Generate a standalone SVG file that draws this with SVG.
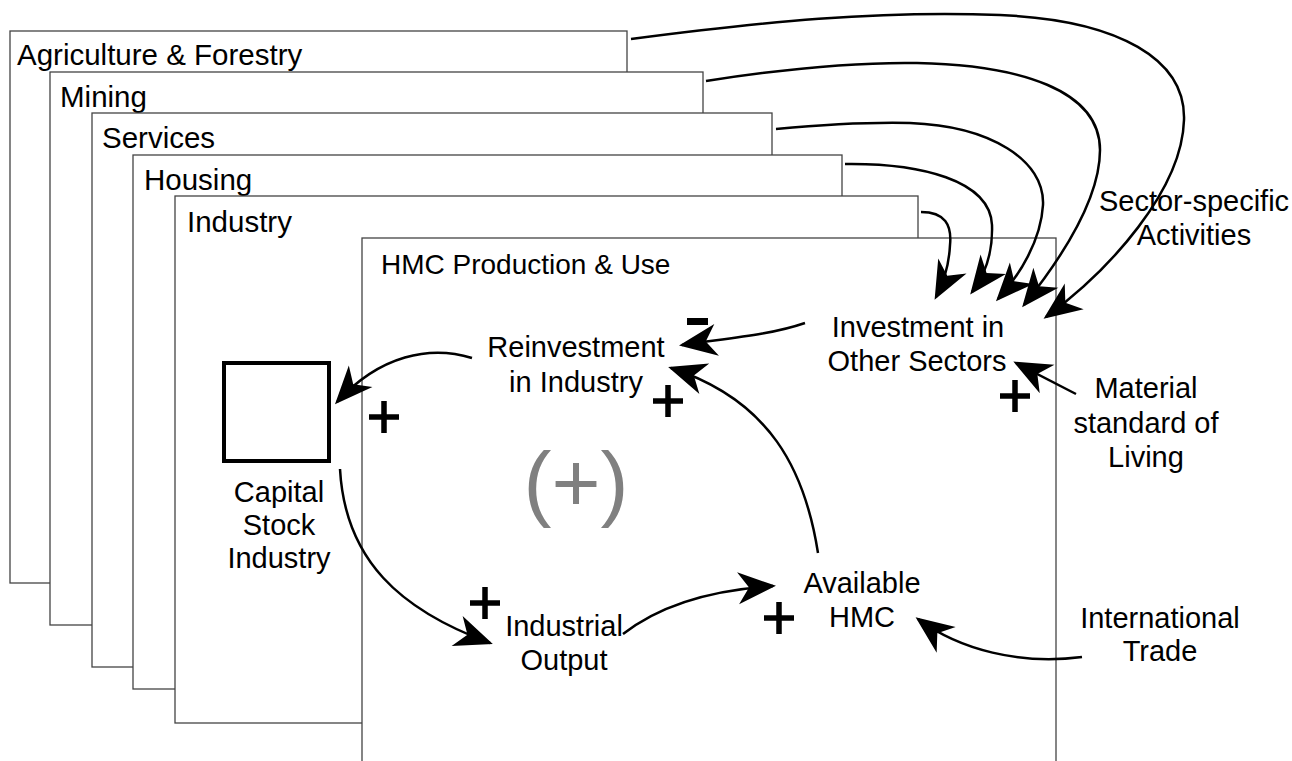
<svg xmlns="http://www.w3.org/2000/svg" width="1292" height="761" viewBox="0 0 1292 761">
  <style>
    text { font-family: "Liberation Sans", Arial, Helvetica, sans-serif; fill: #000; }
    .sheet rect { fill: #fff; stroke: #444; stroke-width: 1.3; }
    .sheet text { font-size: 29.5px; }
    .lbl { font-size: 29px; text-anchor: middle; }
    .link { fill: none; stroke: #000; stroke-width: 2.5; marker-end: url(#head); }
    .sign { stroke: #000; stroke-width: 5.5; fill: none; }
  </style>
  <defs>
    <marker id="head" markerUnits="userSpaceOnUse" orient="auto" viewBox="-40 -20 46 40" markerWidth="46" markerHeight="40" refX="0" refY="0" overflow="visible">
      <path d="M3,0 L-35,-16 L-24,0 L-35,16 Z" fill="#000"/>
    </marker>
    <path id="plus" d="M-15,0 H15 M0,-16 V16"/>
  </defs>

  <!-- stacked sector sheets, back to front -->
  <g id="sheet-agriculture" class="sheet">
    <rect x="10" y="31" width="617" height="552"/>
    <text x="17" y="65">Agriculture &amp; Forestry</text>
  </g>
  <g id="sheet-mining" class="sheet">
    <rect x="50" y="72" width="653" height="553"/>
    <text x="60" y="107">Mining</text>
  </g>
  <g id="sheet-services" class="sheet">
    <rect x="92" y="113" width="680" height="554"/>
    <text x="102" y="148">Services</text>
  </g>
  <g id="sheet-housing" class="sheet">
    <rect x="133" y="155" width="709" height="534"/>
    <text x="144" y="190">Housing</text>
  </g>
  <g id="sheet-industry" class="sheet">
    <rect x="175" y="196" width="743" height="527"/>
    <text x="187" y="232">Industry</text>
  </g>
  <g id="sheet-hmc" class="sheet">
    <rect x="362" y="238" width="694" height="540"/>
    <text x="381" y="274" style="font-size:28px">HMC Production &amp; Use</text>
  </g>

  <!-- stock -->
  <g id="capital-stock">
    <rect x="224" y="363" width="105" height="98" fill="none" stroke="#000" stroke-width="4"/>
    <text class="lbl" x="279" y="502">Capital</text>
    <text class="lbl" x="279" y="535">Stock</text>
    <text class="lbl" x="279" y="568">Industry</text>
  </g>

  <g id="reinvestment">
    <text class="lbl" x="576" y="357">Reinvestment</text>
    <text class="lbl" x="576" y="392">in Industry</text>
  </g>
  <g id="investment-other">
    <text class="lbl" x="918" y="337">Investment in</text>
    <text class="lbl" x="917" y="371">Other Sectors</text>
  </g>
  <g id="material-standard">
    <text class="lbl" x="1146" y="398">Material</text>
    <text class="lbl" x="1146" y="433">standard of</text>
    <text class="lbl" x="1146" y="467">Living</text>
  </g>
  <g id="sector-activities">
    <text class="lbl" x="1194" y="211">Sector-specific</text>
    <text class="lbl" x="1194" y="245">Activities</text>
  </g>
  <g id="industrial-output">
    <text class="lbl" x="564" y="636">Industrial</text>
    <text class="lbl" x="564" y="670">Output</text>
  </g>
  <g id="available-hmc">
    <text class="lbl" x="862" y="593">Available</text>
    <text class="lbl" x="862" y="627">HMC</text>
  </g>
  <g id="international-trade">
    <text class="lbl" x="1160" y="628">International</text>
    <text class="lbl" x="1160" y="661">Trade</text>
  </g>

  <!-- loop polarity -->
  <g id="loop-marker">
    <text x="576" y="511" font-size="84" text-anchor="middle" style="fill:#808080">(+)</text>
  </g>

  <!-- causal links -->
  <g id="connectors">
    <path class="link" d="M631,39 C760,22 880,10 1000,15 C1120,20 1186,60 1184,120 C1182,190 1110,270 1046,317"/>
    <path class="link" d="M706,81 C790,68 860,62 917,63 C1020,65 1100,90 1100,150 C1100,200 1060,260 1024,305"/>
    <path class="link" d="M776,129 C830,124 870,122 910,123 C990,126 1045,160 1043,205 C1041,240 1020,275 998,299"/>
    <path class="link" d="M845,164 C920,163 990,180 992,225 C993,255 985,275 972,292"/>
    <path class="link" d="M921,212 C945,212 952,225 950,245 C949,265 945,280 936,297"/>
    <path class="link" d="M805,323 C770,335 730,338 682,345"/>
    <path class="link" d="M818,553 C805,470 770,400 671,368"/>
    <path class="link" d="M472,358 C430,345 380,355 337,402"/>
    <path class="link" d="M340,469 C345,560 400,610 490,643"/>
    <path class="link" d="M623,634 C660,605 710,590 773,586"/>
    <path class="link" d="M1082,657 C1020,665 960,650 918,619"/>
    <path class="link" d="M1076,394 L1016,363"/>
  </g>

  <!-- link polarities -->
  <g id="polarities">
    <use href="#plus" class="sign" x="384" y="417"/>
    <use href="#plus" class="sign" x="668" y="401"/>
    <use href="#plus" class="sign" x="1015" y="396"/>
    <use href="#plus" class="sign" x="485" y="603"/>
    <use href="#plus" class="sign" x="779" y="618"/>
    <rect x="687" y="318" width="21" height="7" fill="#000"/>
  </g>
</svg>
